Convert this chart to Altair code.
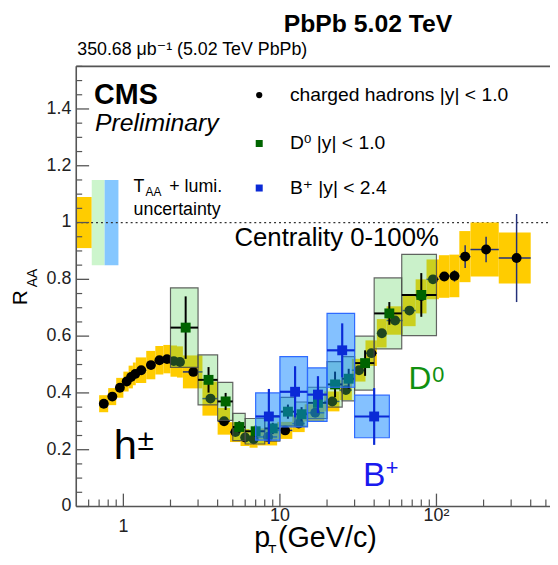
import altair as alt
import pandas as pd

# ---------------- data ----------------
# charged hadrons
h_pt = [0.75, 0.85, 0.95, 1.05, 1.12, 1.19, 1.3, 1.5, 1.7, 1.9, 2.1, 2.3, 2.8, 3.6, 4.4, 5.2, 6.0, 6.8,
        8.4, 10.8, 13.2, 16.8, 21.6, 26.4, 32.0, 38.4, 44.8, 54.4, 67.2, 80.0, 95.0, 112.2, 130.4,
        152.5, 207.5, 325.0]
h_lo = [0.7, 0.8, 0.9, 1.0, 1.08, 1.15, 1.2, 1.4, 1.6, 1.8, 2.0, 2.2, 2.4, 3.2, 4.0, 4.8, 5.6, 6.4,
        7.2, 9.6, 12.0, 14.4, 19.2, 24.0, 28.8, 35.2, 41.6, 48.0, 60.8, 73.6, 86.4, 103.6, 120.8,
        140.0, 165.0, 250.0]
h_hi = [0.8, 0.9, 1.0, 1.08, 1.15, 1.2, 1.4, 1.6, 1.8, 2.0, 2.2, 2.4, 3.2, 4.0, 4.8, 5.6, 6.4, 7.2,
        9.6, 12.0, 14.4, 19.2, 24.0, 28.8, 35.2, 41.6, 48.0, 60.8, 73.6, 86.4, 103.6, 120.8, 140.0,
        165.0, 250.0, 400.0]
h_val = [0.362, 0.387, 0.418, 0.440, 0.456, 0.467, 0.480, 0.498, 0.515, 0.519, 0.512, 0.509, 0.474,
         0.380, 0.300, 0.262, 0.243, 0.237, 0.245, 0.268, 0.292, 0.330, 0.370, 0.410, 0.480, 0.540,
         0.610, 0.655, 0.690, 0.740, 0.800, 0.810, 0.812, 0.880, 0.905, 0.875]
h_stat = [0.003, 0.003, 0.003, 0.003, 0.003, 0.003, 0.003, 0.003, 0.003, 0.003, 0.003, 0.003, 0.003,
          0.003, 0.003, 0.003, 0.003, 0.003, 0.003, 0.003, 0.003, 0.004, 0.004, 0.005, 0.005, 0.006,
          0.007, 0.008, 0.009, 0.010, 0.012, 0.015, 0.020, 0.040, 0.045, 0.155]
h_sys = [0.030, 0.030, 0.035, 0.035, 0.040, 0.040, 0.045, 0.050, 0.050, 0.050, 0.055, 0.055, 0.058,
         0.060, 0.047, 0.035, 0.030, 0.030, 0.030, 0.030, 0.030, 0.030, 0.035, 0.035, 0.040, 0.045,
         0.050, 0.050, 0.055, 0.060, 0.070, 0.075, 0.075, 0.090, 0.095, 0.090]

# D0
d_pt = [2.5, 3.5, 4.5, 5.5, 7.0, 9.0, 11.25, 13.75, 17.5, 22.5, 27.5, 35.0, 50.0, 80.0]
d_lo = [2, 3, 4, 5, 6, 8, 10, 12.5, 15, 20, 25, 30, 40, 60]
d_hi = [3, 4, 5, 6, 8, 10, 12.5, 15, 20, 25, 30, 40, 60, 100]
d_val = [0.630, 0.446, 0.370, 0.280, 0.265, 0.275, 0.334, 0.325, 0.365, 0.430, 0.450, 0.505, 0.680, 0.745]
d_stat = [0.110, 0.045, 0.030, 0.020, 0.020, 0.020, 0.025, 0.025, 0.030, 0.045, 0.035, 0.045, 0.040, 0.077]
d_sys = [0.140, 0.088, 0.067, 0.048, 0.045, 0.045, 0.050, 0.043, 0.055, 0.080, 0.078, 0.095, 0.125, 0.143]

# B+
b_pt = [8.5, 12.5, 17.5, 25.0, 40.0]
b_lo = [7, 10, 15, 20, 30]
b_hi = [10, 15, 20, 30, 50]
b_val = [0.317, 0.404, 0.394, 0.550, 0.317]
b_stat = [0.097, 0.090, 0.065, 0.095, 0.100]
b_sys = [0.083, 0.124, 0.094, 0.130, 0.075]

# T_AA + lumi boxes (h, D0, B+)
taa_lo = [0.5, 0.628, 0.759]
taa_hi = [0.628, 0.759, 0.93]
taa_unc = [0.09, 0.15, 0.15]
taa_col = ["#ffcc00", "#ccf5cc", "#85c7ff"]

# axis ticks
y_major = [0, 0.2, 0.4, 0.6, 0.8, 1.0, 1.2, 1.4]
y_major_lbl = ["0", "0.2", "0.4", "0.6", "0.8", "1", "1.2", "1.4"]
y_minor = [round(0.05 * i, 2) for i in range(0, 32) if i % 4 != 0]
x_major = [1, 10, 100]
x_minor = [0.6, 0.7, 0.8, 0.9, 2, 3, 4, 5, 6, 7, 8, 9, 20, 30, 40, 50, 60, 70, 80, 90, 200, 300, 400, 500]

# ---------------- chart ----------------
W, H = 477, 445
FONT = "Liberation Sans, Arial, Helvetica, DejaVu Sans, sans-serif"
xs = alt.Scale(type="log", domain=[0.5, 516], nice=False)
ys = alt.Scale(domain=[0, 1.55], nice=False, zero=False)


def X(f):
    return alt.X(f, type="quantitative", scale=xs, axis=None)


def Y(f):
    return alt.Y(f, type="quantitative", scale=ys, axis=None)


def table(pt, lo, hi, val, st, sy):
    df = pd.DataFrame(dict(pt=pt, lo=lo, hi=hi, v=val, st=st, sy=sy))
    df["sl"] = df.v - df.sy
    df["sh"] = df.v + df.sy
    df["el"] = df.v - df.st
    df["eh"] = df.v + df.st
    return df


h = table(h_pt, h_lo, h_hi, h_val, h_stat, h_sys)
d = table(d_pt, d_lo, d_hi, d_val, d_stat, d_sys)
b = table(b_pt, b_lo, b_hi, b_val, b_stat, b_sys)
taa = pd.DataFrame(dict(lo=taa_lo, hi=taa_hi, u=taa_unc, col=taa_col))
taa["yl"] = 1 - taa.u
taa["yh"] = 1 + taa.u
one = pd.DataFrame({"a": [0]})

layers = []

# T_AA boxes + dotted line
layers.append(alt.Chart(taa).mark_rect().encode(
    x=X("lo"), x2="hi", y=Y("yl"), y2="yh", color=alt.Color("col:N", scale=None)))
layers.append(alt.Chart(pd.DataFrame({"y": [1.0]})).mark_rule(
    color="#333333", strokeDash=[2, 3], strokeWidth=1.3).encode(y=Y("y")))

# charged hadrons
layers.append(alt.Chart(h).mark_rect(color="#ffcc00").encode(x=X("lo"), x2="hi", y=Y("sl"), y2="sh"))
layers.append(alt.Chart(h).mark_rule(color="#23307a", strokeWidth=1.5).encode(x=X("lo"), x2="hi", y=Y("v")))
layers.append(alt.Chart(h).mark_rule(color="#23307a", strokeWidth=1.5).encode(x=X("pt"), y=Y("el"), y2="eh"))
layers.append(alt.Chart(h).mark_circle(color="black", size=100, opacity=1).encode(x=X("pt"), y=Y("v")))

# D0
layers.append(alt.Chart(d).mark_rect(fill="#5fd35f", fillOpacity=0.33, stroke="#4a4a4a",
                                     strokeWidth=1.2, strokeOpacity=0.85).encode(
    x=X("lo"), x2="hi", y=Y("sl"), y2="sh"))
layers.append(alt.Chart(d).mark_rule(color="black", strokeWidth=2).encode(x=X("lo"), x2="hi", y=Y("v")))
layers.append(alt.Chart(d).mark_rule(color="black", strokeWidth=2).encode(x=X("pt"), y=Y("el"), y2="eh"))
layers.append(alt.Chart(d).mark_square(color="#006400", size=100, opacity=1).encode(x=X("pt"), y=Y("v")))

# B+
layers.append(alt.Chart(b).mark_rect(fill="#0a84ff", fillOpacity=0.5, stroke="#2f6bff",
                                     strokeWidth=1.2).encode(
    x=X("lo"), x2="hi", y=Y("sl"), y2="sh"))
layers.append(alt.Chart(b).mark_rule(color="#0a2ad6", strokeWidth=2.2).encode(x=X("lo"), x2="hi", y=Y("v")))
layers.append(alt.Chart(b).mark_rule(color="#0a2ad6", strokeWidth=2.2).encode(x=X("pt"), y=Y("el"), y2="eh"))
layers.append(alt.Chart(b).mark_square(color="#0a2ad6", size=100, opacity=1).encode(x=X("pt"), y=Y("v")))

# frame
AX = "#555555"
layers.append(alt.Chart(one).mark_rule(color=AX, strokeWidth=1.6).encode(
    x=alt.value(0), y=alt.value(0), y2=alt.value(H)))
layers.append(alt.Chart(one).mark_rule(color=AX, strokeWidth=1.6).encode(
    x=alt.value(0), x2=alt.value(W + 5), y=alt.value(H)))
layers.append(alt.Chart(one).mark_rule(color=AX, strokeWidth=1.6).encode(
    x=alt.value(0), x2=alt.value(W + 5), y=alt.value(0)))

# ticks
layers.append(alt.Chart(pd.DataFrame({"v": y_major})).mark_rule(color=AX, strokeWidth=1.3).encode(
    x=alt.value(0), x2=alt.value(13), y=Y("v")))
layers.append(alt.Chart(pd.DataFrame({"v": y_minor})).mark_rule(color=AX, strokeWidth=1.2).encode(
    x=alt.value(0), x2=alt.value(6), y=Y("v")))
layers.append(alt.Chart(pd.DataFrame({"v": x_major})).mark_rule(color=AX, strokeWidth=1.3).encode(
    x=X("v"), y=alt.value(H), y2=alt.value(H - 13)))
layers.append(alt.Chart(pd.DataFrame({"v": x_minor})).mark_rule(color=AX, strokeWidth=1.2).encode(
    x=X("v"), y=alt.value(H), y2=alt.value(H - 7)))

# tick labels
layers.append(alt.Chart(pd.DataFrame({"v": y_major, "t": y_major_lbl})).mark_text(
    font=FONT, fontSize=18, align="right", baseline="middle", color="#222222").encode(
    x=alt.value(-5), y=Y("v"), text="t:N"))
layers.append(alt.Chart(pd.DataFrame({"v": [1], "t": ["1"]})).mark_text(
    font=FONT, fontSize=18, align="center", baseline="middle", color="#222222").encode(
    x=X("v"), y=alt.value(H + 21), text="t:N"))
layers.append(alt.Chart(pd.DataFrame({"v": [10, 100], "t": ["10", "10²"]})).mark_text(
    font=FONT, fontSize=18, align="center", baseline="middle", color="#222222").encode(
    x=X("v"), y=alt.value(H + 10), text="t:N"))


def txt(s, x, y, size, color="black", align="left", baseline="alphabetic", **kw):
    return alt.Chart(one).mark_text(text=s, font=FONT, fontSize=size, color=color, align=align,
                                    baseline=baseline, **kw).encode(x=alt.value(x), y=alt.value(y))


# titles and annotations
layers += [
    txt("PbPb 5.02 TeV", 295, -35, 25, align="center", fontWeight="bold"),
    txt("350.68 μb⁻¹ (5.02 TeV PbPb)", 1, -11, 18),
    txt("CMS", 18, 38, 29, fontWeight="bold"),
    txt("Preliminary", 19, 65, 25, fontStyle="italic"),
    txt("T", 58, 127, 18),
    txt("AA", 70, 131, 12),
    txt("+ lumi.", 94, 127, 18),
    txt("uncertainty", 58, 150, 18),
    txt("Centrality 0-100%", 160, 182, 26),
    txt("h", 38, 397, 42),
    txt("±", 62, 388, 30),
    txt("D", 336, 326, 32, color="#109010"),
    txt("0", 360, 319, 22, color="#109010"),
    txt("B", 290, 424, 34, color="#1a1aee"),
    txt("+", 313, 413, 22, color="#1a1aee"),
    txt("charged hadrons |y| < 1.0", 216, 29, 19.5, baseline="middle"),
    txt("D⁰ |y| < 1.0", 216, 78, 19.5, baseline="middle"),
    txt("B⁺ |y| < 2.4", 216, 123, 19.5, baseline="middle"),
    txt("R", -50, 234, 21, align="center", angle=270),
    txt("AA", -40, 214, 14, align="center", angle=270),
    txt("p", 180, 486, 29),
    txt("T", 194, 494, 14),
    txt("(GeV/c)", 204, 486, 29),
]
layers.append(alt.Chart(one).mark_circle(color="black", size=40, opacity=1).encode(
    x=alt.value(185), y=alt.value(29)))
layers.append(alt.Chart(one).mark_square(color="#006400", size=50, opacity=1).encode(
    x=alt.value(185), y=alt.value(78)))
layers.append(alt.Chart(one).mark_square(color="#0a2ad6", size=50, opacity=1).encode(
    x=alt.value(185), y=alt.value(123)))

chart = alt.layer(*layers).properties(
    width=W, height=H,
    autosize=alt.AutoSizeParams(type="none"),
    padding={"left": 69, "top": 56, "right": 2, "bottom": 44},
).configure_view(stroke=None)

chart.save("out.html", embed_options={"renderer": "svg", "actions": False})
